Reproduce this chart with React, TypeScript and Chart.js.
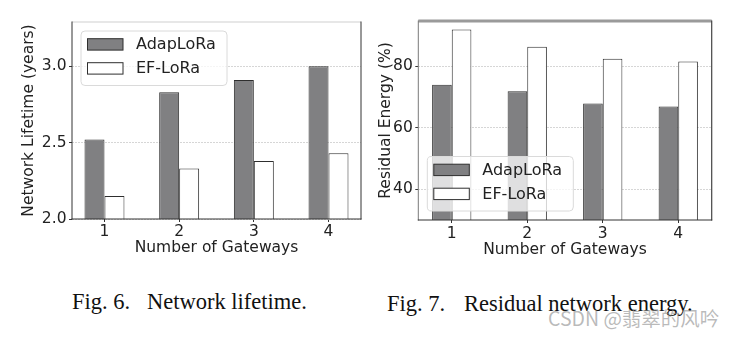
import React, { useEffect, useRef } from "react";
import { Chart, registerables } from "chart.js";
Chart.register(...registerables);

const gateways = [1, 2, 3, 4];
const seriesNames = ["AdapLoRa", "EF-LoRa"];
const lifetimeAdapLoRa = [2.52, 2.83, 2.91, 3.0];
const lifetimeEFLoRa = [2.15, 2.33, 2.38, 2.43];
const energyAdapLoRa = [74.0, 71.9, 67.9, 66.9];
const energyEFLoRa = [91.9, 86.3, 82.4, 81.5];
const lifetimeTicks = [2.0, 2.5, 3.0];
const energyTicks = [40, 60, 80];

const FONT = '"DejaVu Sans", sans-serif';
const TEXT = "#222222";

const framePlugin = {
  id: "frame",
  afterDatasetsDraw(chart: any, _args: any, o: any) {
    const { ctx, chartArea: a } = chart;
    const line = (x1: number, y1: number, x2: number, y2: number, s: [string, number]) => {
      ctx.beginPath();
      ctx.strokeStyle = s[0];
      ctx.lineWidth = s[1];
      ctx.moveTo(x1, y1);
      ctx.lineTo(x2, y2);
      ctx.stroke();
    };
    ctx.save();
    line(a.left, a.top, a.right, a.top, o.top);
    line(a.right, a.top - 0.5, a.right, a.bottom + 0.5, o.right);
    line(a.left, a.top - 0.5, a.left, a.bottom + 0.5, o.left);
    line(a.left - 0.5, a.bottom, a.right + 0.5, a.bottom, o.bottom);

    // legend
    const w = 146;
    const h = 54.5;
    const x = a.left + 9;
    const y = o.corner === "bottom" ? a.bottom - 9 - h : a.top + 9;
    const r = 4;
    ctx.beginPath();
    ctx.moveTo(x + r, y);
    ctx.lineTo(x + w - r, y);
    ctx.arcTo(x + w, y, x + w, y + r, r);
    ctx.lineTo(x + w, y + h - r);
    ctx.arcTo(x + w, y + h, x + w - r, y + h, r);
    ctx.lineTo(x + r, y + h);
    ctx.arcTo(x, y + h, x, y + h - r, r);
    ctx.lineTo(x, y + r);
    ctx.arcTo(x, y, x + r, y, r);
    ctx.closePath();
    ctx.fillStyle = "rgba(255,255,255,0.75)";
    ctx.fill();
    ctx.strokeStyle = "#dadada";
    ctx.lineWidth = 1;
    ctx.stroke();
    chart.data.datasets.forEach((ds: any, i: number) => {
      const cy = y + 13.4 + i * 24;
      ctx.fillStyle = ds.backgroundColor;
      ctx.fillRect(x + 6.5, cy - 5.7, 35.5, 11.4);
      ctx.strokeStyle = ds.borderColor;
      ctx.lineWidth = 1;
      ctx.strokeRect(x + 6.5, cy - 5.7, 35.5, 11.4);
      ctx.fillStyle = TEXT;
      ctx.font = `16px ${FONT}`;
      ctx.textBaseline = "middle";
      ctx.textAlign = "left";
      ctx.fillText(ds.label, x + 55, cy + 0.5);
    });
    ctx.restore();
  },
};

type Spec = {
  a: number[];
  b: number[];
  yMin: number;
  yMax: number;
  yTicks: number[];
  digits: number;
  xMin: number;
  xMax: number;
  catPct: number;
  yTitle: string;
  yTitlePad: number;
  xTitlePad: number;
  xTickPad: number;
  yWidth: number;
  xHeight: number;
  pad: { top: number; right: number };
  frame: any;
};

function BarPanel({ spec, width, height, left }: { spec: Spec; width: number; height: number; left: number }) {
  const ref = useRef<HTMLCanvasElement>(null);
  useEffect(() => {
    const canvas = ref.current!;
    const mk = (label: string, vals: number[], bg: string) => ({
      label,
      data: gateways.map((g, i) => ({ x: g, y: vals[i] })),
      backgroundColor: bg,
      borderColor: "#2e2e2e",
      borderWidth: 1,
      categoryPercentage: spec.catPct,
      barPercentage: 1,
      clip: 0,
    });
    const chart = new Chart(canvas, {
      type: "bar",
      data: {
        datasets: [mk(seriesNames[0], spec.a, "#808082"), mk(seriesNames[1], spec.b, "#ffffff")],
      },
      plugins: [framePlugin],
      options: {
        animation: false,
        responsive: false,
        devicePixelRatio: 1,
        layout: { padding: { top: spec.pad.top, right: spec.pad.right, left: 0, bottom: 0 } },
        plugins: {
          legend: { display: false },
          tooltip: { enabled: false },
          frame: spec.frame,
        } as any,
        scales: {
          x: {
            type: "linear",
            offset: false,
            min: spec.xMin,
            max: spec.xMax,
            afterBuildTicks: (s: any) => {
              s.ticks = gateways.map((v) => ({ value: v }));
            },
            afterFit: (s: any) => {
              s.height = spec.xHeight;
            },
            grid: { drawOnChartArea: false, offset: false, tickColor: "#333", tickLength: 3 },
            border: { display: false },
            ticks: {
              color: TEXT,
              font: { family: FONT, size: 15.5 },
              padding: spec.xTickPad,
              callback: (v: any) => String(v),
            },
            title: {
              display: true,
              text: "Number of Gateways",
              color: TEXT,
              font: { family: FONT, size: 15.5 },
              padding: { top: 0, bottom: spec.xTitlePad },
            },
          },
          y: {
            min: spec.yMin,
            max: spec.yMax,
            afterBuildTicks: (s: any) => {
              s.ticks = spec.yTicks.map((v) => ({ value: v }));
            },
            afterFit: (s: any) => {
              s.width = spec.yWidth;
            },
            grid: { color: "#d6d6d6", tickColor: "#333", tickLength: 3, lineWidth: 1 },
            border: { display: false, dash: [2, 1] },
            ticks: {
              color: TEXT,
              font: { family: FONT, size: 15.5 },
              padding: 2.5,
              callback: (v: any) => Number(v).toFixed(spec.digits),
            },
            title: {
              display: true,
              text: spec.yTitle,
              color: TEXT,
              font: { family: FONT, size: 15.5 },
              padding: { top: spec.yTitlePad, bottom: 0 },
            },
          },
        },
      } as any,
    });
    return () => chart.destroy();
  }, []);
  return (
    <canvas
      ref={ref}
      width={width}
      height={height}
      style={{ position: "absolute", left, top: 0, width, height }}
    />
  );
}

const leftSpec: Spec = {
  a: lifetimeAdapLoRa,
  b: lifetimeEFLoRa,
  yMin: 2.0,
  yMax: 3.29,
  yTicks: lifetimeTicks,
  digits: 1,
  xMin: 0.565,
  xMax: 4.435,
  catPct: 0.535,
  yTitle: "Network Lifetime (years)",
  yTitlePad: 19.5,
  xTitlePad: 4.4,
  xTickPad: 0.5,
  yWidth: 72,
  xHeight: 43,
  pad: { top: 22, right: 9 },
  frame: {
    top: ["#cfcfcf", 1],
    right: ["#333333", 1],
    left: ["#333333", 1],
    bottom: ["#333333", 1],
    corner: "top",
  },
};

const rightSpec: Spec = {
  a: energyAdapLoRa,
  b: energyEFLoRa,
  yMin: 30,
  yMax: 94.7,
  yTicks: energyTicks,
  digits: 0,
  xMin: 0.557,
  xMax: 4.443,
  catPct: 0.52,
  yTitle: "Residual Energy (%)",
  yTitlePad: 11.2,
  xTitlePad: 2.7,
  xTickPad: 1.2,
  yWidth: 53.3,
  xHeight: 42,
  pad: { top: 21, right: 25.3 },
  frame: {
    top: ["#9a9a9a", 3],
    right: ["#444444", 1.2],
    left: ["#7a7a7a", 1],
    bottom: ["#333333", 1],
    corner: "bottom",
  },
};

const capStyle: React.CSSProperties = {
  position: "absolute",
  fontFamily: '"Liberation Serif", "Times New Roman", serif',
  fontSize: 22.5,
  lineHeight: "22.5px",
  color: "#111",
  whiteSpace: "nowrap",
};

export default function App() {
  return (
    <div style={{ position: "absolute", left: 0, top: 0, width: 737, height: 337, background: "#fff", overflow: "hidden" }}>
      <BarPanel spec={leftSpec} width={370} height={262} left={0} />
      <BarPanel spec={rightSpec} width={372} height={262} left={365} />
      <div style={{ ...capStyle, left: 72, top: 291.2 }}>Fig. 6.</div>
      <div style={{ ...capStyle, left: 147, top: 291.2 }}>Network lifetime.</div>
      <div style={{ ...capStyle, left: 387, top: 292.8 }}>Fig. 7.</div>
      <div style={{ ...capStyle, left: 464, top: 292.8 }}>Residual network energy.</div>
      <div
        style={{
          position: "absolute",
          left: 548,
          top: 307.7,
          fontFamily: '"Noto Sans CJK SC", "Noto Sans", sans-serif',
          fontSize: 19.5,
          lineHeight: "19.5px",
          color: "rgba(140,140,140,0.6)",
          whiteSpace: "nowrap",
        }}
      >
        CSDN @翡翠的风吟
      </div>
    </div>
  );
}
